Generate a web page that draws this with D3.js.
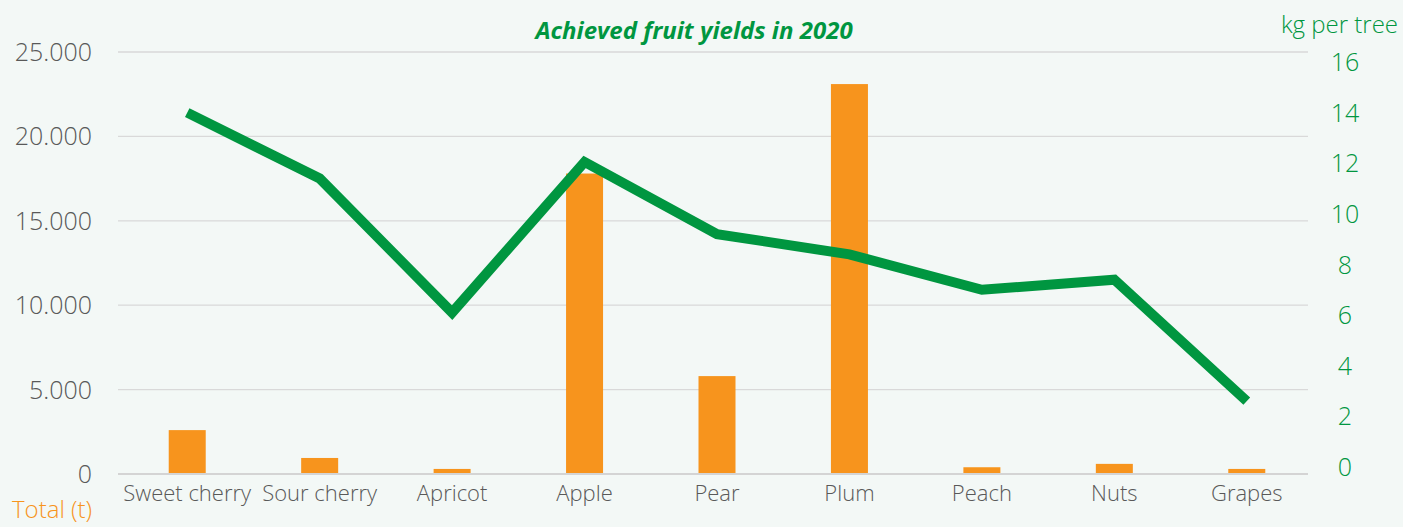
<!DOCTYPE html>
<html>
<head>
<meta charset="utf-8">
<script src="https://cdn.jsdelivr.net/npm/d3@7"></script>
<style>
  html, body { margin: 0; padding: 0; background: #f3f8f6; }
  svg { display: block; font-family: "Open Sans", sans-serif; }
</style>
</head>
<body>
<script>
// 데이터
const categories = ["Sweet cherry", "Sour cherry", "Apricot", "Apple", "Pear", "Plum", "Peach", "Nuts", "Grapes"];
const totalTons = [2600, 950, 300, 17800, 5800, 23100, 400, 600, 300];
const kgPerTree = [14.0, 11.4, 6.1, 12.05, 9.2, 8.4, 7.0, 7.4, 2.6];
const leftTicks = [0, 5000, 10000, 15000, 20000, 25000];
const rightTicks = [0, 2, 4, 6, 8, 10, 12, 14, 16];

const W = 1403, H = 527;
const orange = "#f7941d", green = "#009640", grey = "#595959";

const svg = d3.select("body").append("svg")
    .attr("width", W)
    .attr("height", H)
    .attr("viewBox", `0 0 ${W} ${H}`);

svg.append("rect").attr("width", W).attr("height", H).attr("fill", "#f3f8f6");

const x = d3.scaleBand().domain(categories).range([121, 1313]);
const yL = d3.scaleLinear().domain([0, 25000]).range([474, 52]);
const yR = d3.scaleLinear().domain([0, 16]).range([467, 62]);

// 격자선
svg.append("g")
    .selectAll("line")
    .data(leftTicks)
    .join("line")
    .attr("x1", 118)
    .attr("x2", 1308)
    .attr("y1", d => yL(d))
    .attr("y2", d => yL(d))
    .attr("stroke", d => d === 0 ? "#d4d4d4" : "#d9d9d9")
    .attr("stroke-width", d => d === 0 ? 2 : 1.3);

// 왼쪽 축
const fmt = d => d === 0 ? "0" : d3.format(",")(d).replace(",", ".");
svg.append("g")
    .selectAll("text")
    .data(leftTicks)
    .join("text")
    .attr("x", 92)
    .attr("y", d => yL(d))
    .attr("dy", "0.36em")
    .attr("text-anchor", "end")
    .attr("fill", grey)
    .attr("font-size", 25)
    .attr("font-weight", 300)
    .text(fmt);

// 오른쪽 축
svg.append("g")
    .selectAll("text")
    .data(rightTicks)
    .join("text")
    .attr("x", 1345)
    .attr("y", d => yR(d))
    .attr("dy", "0.36em")
    .attr("text-anchor", "middle")
    .attr("fill", green)
    .attr("font-size", 25)
    .attr("font-weight", 300)
    .text(d => d);

// 막대
const barW = 37;
svg.append("g")
    .selectAll("rect")
    .data(categories)
    .join("rect")
    .attr("x", d => x(d) + x.bandwidth() / 2 - barW / 2)
    .attr("y", (d, i) => yL(totalTons[i]))
    .attr("width", barW)
    .attr("height", (d, i) => yL(0) - yL(totalTons[i]) - 1)
    .attr("fill", orange);

// 선
const line = d3.line()
    .x((d, i) => x(categories[i]) + x.bandwidth() / 2)
    .y(d => yR(d));

svg.append("path")
    .datum(kgPerTree)
    .attr("d", line)
    .attr("fill", "none")
    .attr("stroke", green)
    .attr("stroke-width", 10)
    .attr("stroke-linejoin", "miter");

// 카테고리 라벨
svg.append("g")
    .selectAll("text")
    .data(categories)
    .join("text")
    .attr("x", d => x(d) + x.bandwidth() / 2)
    .attr("y", 493)
    .attr("dy", "0.36em")
    .attr("text-anchor", "middle")
    .attr("fill", grey)
    .attr("font-size", 22)
    .attr("font-weight", 300)
    .text(d => d);

// 제목
svg.append("text")
    .attr("x", 694)
    .attr("y", 30)
    .attr("dy", "0.36em")
    .attr("text-anchor", "middle")
    .attr("fill", green)
    .attr("font-size", 24)
    .attr("font-weight", 700)
    .attr("font-style", "italic")
    .text("Achieved fruit yields in 2020");

svg.append("text")
    .attr("x", 1398)
    .attr("y", 24)
    .attr("dy", "0.36em")
    .attr("text-anchor", "end")
    .attr("fill", green)
    .attr("font-size", 24)
    .attr("font-weight", 300)
    .text("kg per tree");

svg.append("text")
    .attr("x", 12)
    .attr("y", 509)
    .attr("dy", "0.36em")
    .attr("fill", orange)
    .attr("font-size", 24)
    .attr("font-weight", 300)
    .text("Total (t)");
</script>
</body>
</html>
